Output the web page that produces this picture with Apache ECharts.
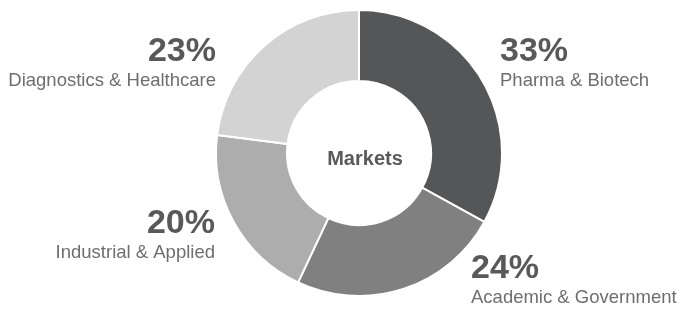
<!DOCTYPE html>
<html>
<head>
<meta charset="utf-8">
<script src="https://cdn.jsdelivr.net/npm/echarts@6/dist/echarts.min.js"></script>
<style>
  html, body { margin: 0; padding: 0; background: #fff; }
  #main { width: 679px; height: 310px; }
</style>
</head>
<body>
<div id="main"></div>
<script>
// market shares, clockwise from 12 o'clock
const markets = ['Pharma & Biotech', 'Academic & Government', 'Industrial & Applied', 'Diagnostics & Healthcare'];
const shares = [33, 24, 20, 23];
const colors = ['#555658', '#808080', '#adadad', '#d3d3d3'];

// where each label block sits (x, top y, alignment)
const labelPos = [
  { x: 500, y: 35, align: 'left' },
  { x: 471, y: 252, align: 'left' },
  { x: 215, y: 207, align: 'right' },
  { x: 216, y: 35, align: 'right' }
];

const chart = echarts.init(document.getElementById('main'));

const option = {
  animation: false,
  title: {
    text: 'Markets',
    left: 360,
    top: 154,
    textAlign: 'center',
    textVerticalAlign: 'middle',
    textStyle: { fontFamily: 'Liberation Sans', fontSize: 20, fontWeight: 'bold', color: '#58595b' }
  },
  series: [
    {
      type: 'pie',
      center: [359, 153],
      radius: [72, 143],
      startAngle: 90,
      clockwise: true,
      itemStyle: { borderColor: '#fff', borderWidth: 2 },
      labelLine: { show: false },
      label: {
        show: true,
        position: 'outside',
        overflow: 'none',
        formatter: p => '{p|' + p.value + '%}\n{n|' + p.name + '}',
        rich: {
          p: { fontFamily: 'Liberation Sans', fontSize: 34, fontWeight: 'bold', color: '#58595b', lineHeight: 34 },
          n: { fontFamily: 'Liberation Sans', fontSize: 18.5, color: '#6e6e6e', lineHeight: 24 }
        }
      },
      labelLayout: params => {
        const pos = labelPos[params.dataIndex];
        return { x: pos.x, y: pos.y, align: pos.align, verticalAlign: 'top' };
      },
      data: markets.map((name, i) => ({
        name: name,
        value: shares[i],
        itemStyle: { color: colors[i] },
        label: { align: labelPos[i].align }
      }))
    }
  ]
};

chart.setOption(option);
</script>
</body>
</html>
